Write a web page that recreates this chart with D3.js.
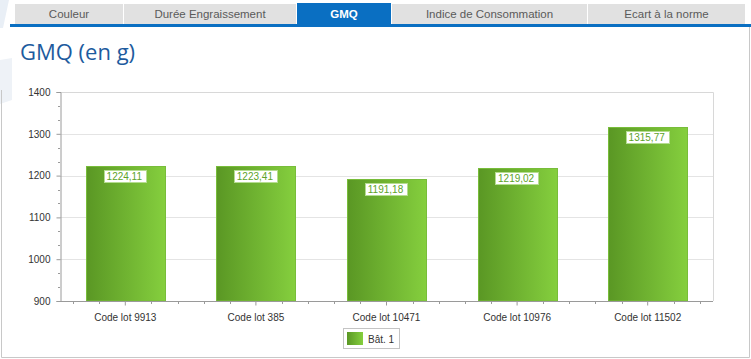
<!DOCTYPE html>
<html><head><meta charset="utf-8">
<script src="https://cdn.jsdelivr.net/npm/d3@7"></script>
<style>body{margin:0;background:#fff}svg{display:block}</style>
</head><body>
<svg id="c" width="751" height="359"></svg>
<script>
const tabs = ["Couleur","Durée Engraissement","GMQ","Indice de Consommation","Ecart à la norme"];
const activeTab = "GMQ";
const title = "GMQ (en g)";
const categories = ["Code lot 9913","Code lot 385","Code lot 10471","Code lot 10976","Code lot 11502"];
const values = [1224.11,1223.41,1191.18,1219.02,1315.77];
const yTicks = [900,1000,1100,1200,1300,1400];
const seriesName = "Bât. 1";

(function(){
const svg = d3.select("#c");
const W = 751, H = 359;

// faint watermark shapes on left
svg.append("path").attr("d","M0,0 L9,0 L3,28 L0,28 Z").attr("fill","#e9eff6");
svg.append("path").attr("d","M0,60 L12,58 L12,100 L0,104 Z").attr("fill","#eef2f7");

// tabs
const tabEdges = [15,123,296,391,587,745];
const tg = svg.append("g");
tabs.forEach((t,i)=>{
  const x0 = tabEdges[i]+ (i>0?1:0), x1 = tabEdges[i+1];
  const act = t===activeTab;
  tg.append("rect").attr("x",x0).attr("y",act?3:4).attr("width",x1-x0).attr("height",act?21:20)
    .attr("fill",act?"#0a6fc2":"#e1e1e1");
  tg.append("text").attr("x",(x0+x1)/2).attr("y",18).attr("text-anchor","middle")
    .attr("font-family","'Liberation Sans',Arial,sans-serif").attr("font-size","11.5px")
    .attr("font-weight",act?"bold":"normal")
    .attr("fill",act?"#ffffff":"#5a5a5a").text(t);
});
svg.append("rect").attr("x",10).attr("y",24).attr("width",W-10).attr("height",3).attr("fill","#0a6fc2");

// panel border
svg.append("path").attr("d","M1.5,90 L1.5,357.5 L749.5,357.5 L749.5,27")
  .attr("fill","none").attr("stroke","#c8c8c8");

// title
svg.append("text").attr("x",20).attr("y",60).attr("font-family","'Open Sans',sans-serif")
  .attr("font-size","22px").attr("fill","#1d5b9e").text(title);

// chart
const pl = 60, pr = 713, pt = 92, pb = 301;
const x = d3.scaleBand().domain(categories).range([pl,pr]).paddingInner(0).paddingOuter(0);
const y = d3.scaleLinear().domain([900,1400]).range([pb,pt]);
const bw = x.bandwidth()*0.605;

const defs = svg.append("defs");
const grad = defs.append("linearGradient").attr("id","bg").attr("x1","0").attr("x2","1").attr("y1","0").attr("y2","0");
grad.append("stop").attr("offset","0").attr("stop-color","#5a9724");
grad.append("stop").attr("offset","1").attr("stop-color","#85cf3e");

// grid
svg.append("g").selectAll("line").data(yTicks).join("line")
  .attr("x1",pl).attr("x2",pr).attr("y1",d=>Math.round(y(d))+0.5).attr("y2",d=>Math.round(y(d))+0.5)
  .attr("stroke","#e4e4e4");
// plot border top/right
svg.append("path").attr("d",`M${pl},${pt+0.5} L${pr+0.5},${pt+0.5} L${pr+0.5},${pb}`)
  .attr("fill","none").attr("stroke","#d8d8d8");

// bars
const bars = svg.append("g");
categories.forEach((c,i)=>{
  const cx = x(c)+x.bandwidth()/2;
  const x0 = Math.round(cx-bw/2)+0.5;
  const yt = Math.round(y(values[i]))+0.5;
  bars.append("rect").attr("x",x0).attr("y",yt).attr("width",Math.round(bw)).attr("height",pb-yt)
    .attr("fill","url(#bg)").attr("stroke","#78bd3a").attr("stroke-width",1);
});

// axes
const axisCol = "#9a9a9a";
const ya = svg.append("g").attr("transform",`translate(${pl+0.5},0)`)
  .call(d3.axisLeft(y).tickValues(yTicks).tickSize(4).tickPadding(6).tickFormat(d3.format("d")));
ya.select(".domain").attr("stroke",axisCol);
ya.selectAll(".tick line").attr("stroke",axisCol);
ya.selectAll("text").attr("font-family","'Liberation Sans',Arial,sans-serif").attr("font-size","10px").attr("fill","#333");
// y minor ticks
const yMinor = [];
for(let i=0;i<yTicks.length-1;i++){ for(let k=1;k<3;k++) yMinor.push(yTicks[i]+(yTicks[i+1]-yTicks[i])*k/3); }
svg.append("g").selectAll("line").data(yMinor).join("line")
  .attr("x1",pl-2).attr("x2",pl).attr("y1",d=>Math.round(y(d))+0.5).attr("y2",d=>Math.round(y(d))+0.5)
  .attr("stroke",axisCol);

const xa = svg.append("g").attr("transform",`translate(0,${pb+0.5})`)
  .call(d3.axisBottom(x).tickSize(4).tickPadding(8));
xa.select(".domain").attr("stroke",axisCol).attr("d",`M${pl},0H${pr}`);
xa.selectAll(".tick line").attr("stroke",axisCol);
xa.selectAll("text").attr("font-family","'Liberation Sans',Arial,sans-serif").attr("font-size","10px").attr("fill","#333");
// x minor ticks
const xMinor = [];
const step = x.bandwidth()/5;
categories.forEach(c=>{
  const cx = x(c)+x.bandwidth()/2;
  [-2,-1,1,2].forEach(k=>{ const p = cx+k*step; if(p>pl+2 && p<pr-2) xMinor.push(p); });
});
svg.append("g").selectAll("line").data(xMinor).join("line")
  .attr("x1",d=>Math.round(d)+0.5).attr("x2",d=>Math.round(d)+0.5).attr("y1",pb).attr("y2",pb+3)
  .attr("stroke",axisCol);

// value labels
const fmt = v => d3.format(".2f")(v).replace(".",",");
const lg = svg.append("g");
categories.forEach((c,i)=>{
  const cx = x(c)+x.bandwidth()/2;
  const yt = y(values[i]);
  const t = lg.append("text").attr("x",cx-1).attr("y",yt+14).attr("text-anchor","middle")
    .attr("font-family","'Liberation Sans',Arial,sans-serif").attr("font-size","10px").attr("fill","#5da32a")
    .text(fmt(values[i]));
  const bb = t.node().getBBox();
  lg.insert("rect","text").attr("x",Math.round(bb.x-3)+0.5).attr("y",Math.round(yt)+4.5)
    .attr("width",Math.round(bb.width+6)).attr("height",12)
    .attr("fill","#fff").attr("stroke","#b5dc90");
});

// legend
const lgx = 343, lgy = 328;
svg.append("rect").attr("x",lgx+0.5).attr("y",lgy+0.5).attr("width",56).attr("height",20)
  .attr("fill","#fff").attr("stroke","#c4c4c4");
svg.append("rect").attr("x",lgx+4).attr("y",lgy+4).attr("width",16).attr("height",13).attr("fill","url(#bg)");
svg.append("text").attr("x",lgx+25).attr("y",lgy+14.5).attr("font-family","'Liberation Sans',Arial,sans-serif")
  .attr("font-size","10px").attr("fill","#333").text(seriesName);
})();
</script>
</body></html>
